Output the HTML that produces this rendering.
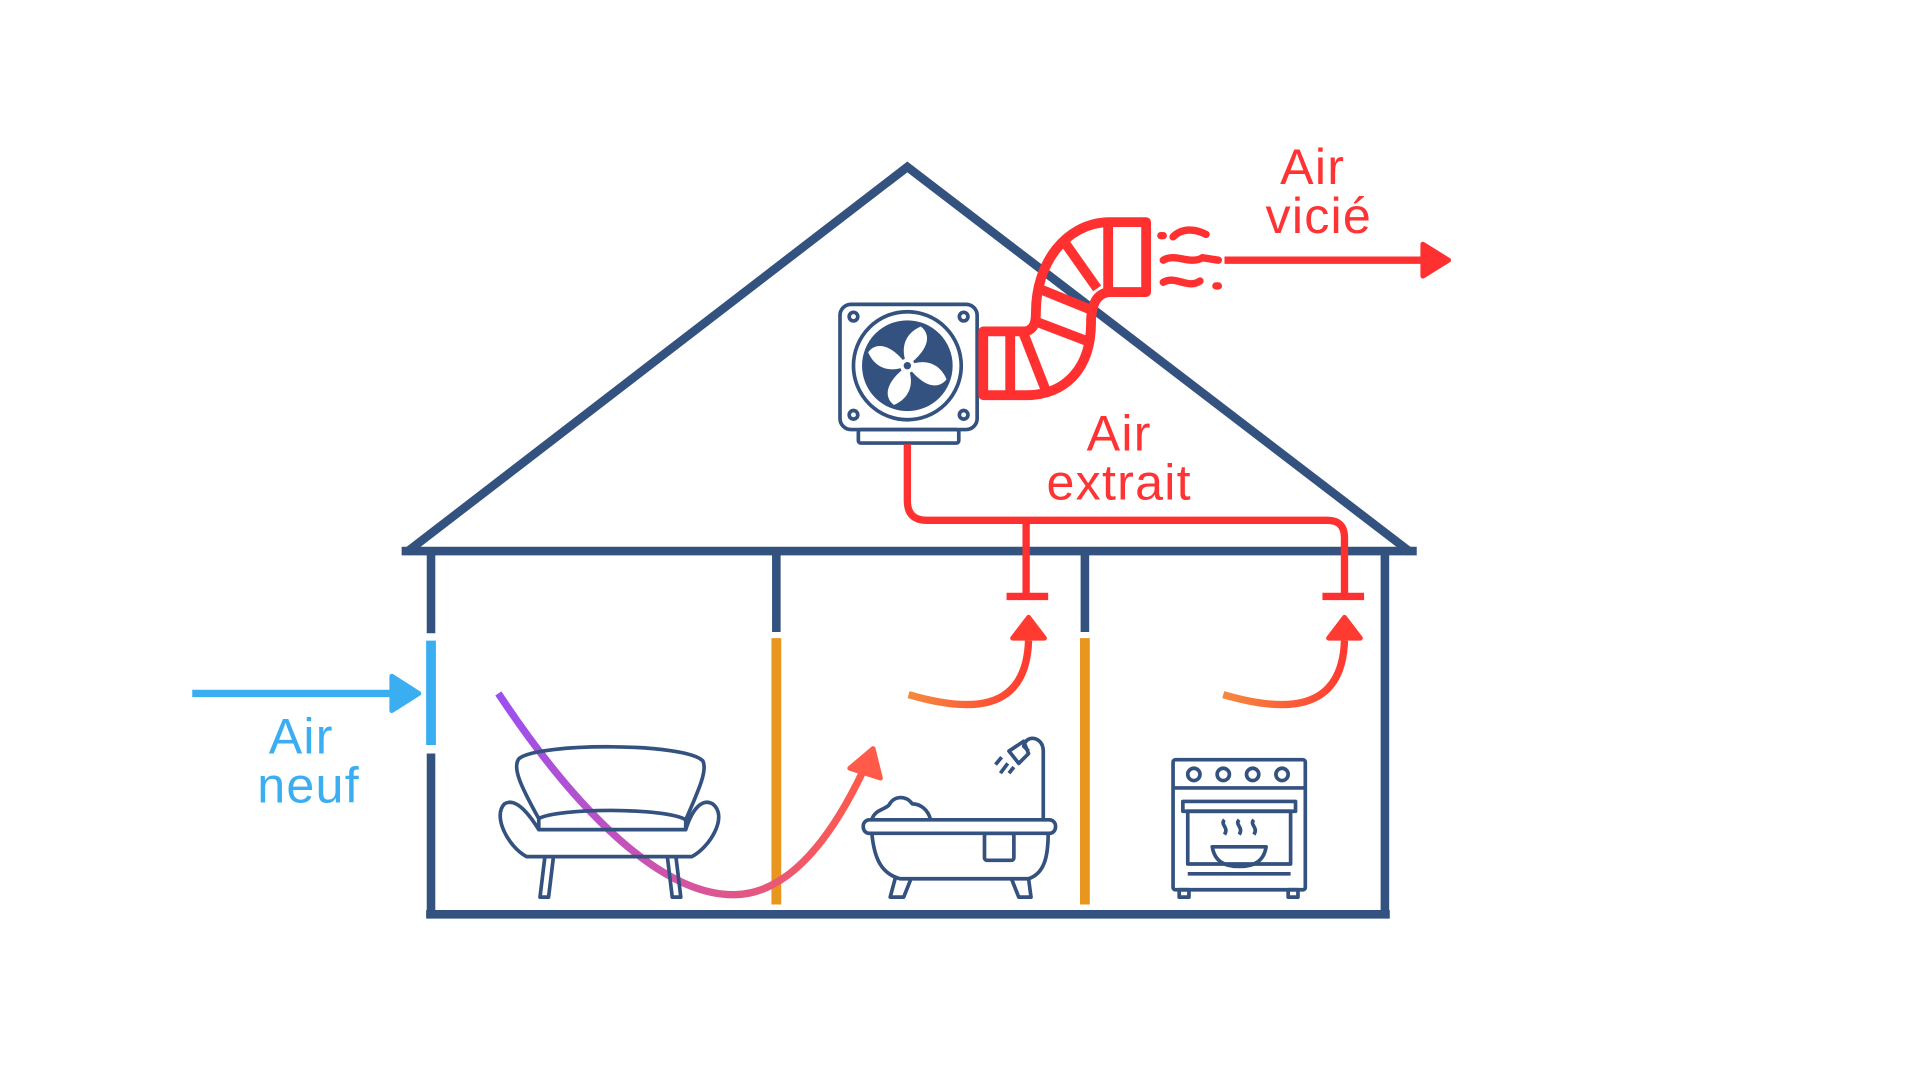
<!DOCTYPE html>
<html><head><meta charset="utf-8"><style>html,body{margin:0;padding:0;background:#fff;}svg{display:block}</style></head>
<body>
<svg width="1920" height="1080" viewBox="0 0 1568 880" preserveAspectRatio="none" xmlns="http://www.w3.org/2000/svg">
<defs>
<linearGradient id="g1" x1="0" y1="0" x2="1" y2="0">
<stop offset="0" stop-color="#9b4ff0"/><stop offset="0.55" stop-color="#d9559a"/><stop offset="1" stop-color="#ff5a4a"/></linearGradient>
<linearGradient id="g2" x1="0" y1="0" x2="1" y2="0">
<stop offset="0" stop-color="#f58a40"/><stop offset="1" stop-color="#ff3a30"/></linearGradient>
</defs>
<rect width="1568" height="880" fill="#fff"/>
<g stroke="#34527f" fill="none" stroke-width="7">
<polyline points="332,450 741,136 1152,450" stroke-linejoin="miter"/>
<line x1="328" y1="449" x2="1157" y2="449"/>
<line x1="352" y1="450" x2="352" y2="516"/>
<line x1="352" y1="614" x2="352" y2="748"/>
<line x1="1131" y1="450" x2="1131" y2="748"/>
<line x1="348" y1="745" x2="1135" y2="745"/>
<line x1="634" y1="450" x2="634" y2="515"/>
<line x1="886" y1="450" x2="886" y2="515"/>
</g>
<g stroke="#e8961e" stroke-width="8">
<line x1="634" y1="520" x2="634" y2="737"/>
<line x1="886" y1="520" x2="886" y2="737"/>
</g>
<line x1="352" y1="522" x2="352" y2="607" stroke="#3aaef0" stroke-width="8"/>
<line x1="157" y1="565" x2="328" y2="565" stroke="#3aaef0" stroke-width="6"/>
<polygon points="320,551 342,565 320,579" fill="#3aaef0" stroke="#3aaef0" stroke-width="4" stroke-linejoin="round"/>
<g font-family="Liberation Sans, sans-serif" font-size="41" text-anchor="middle" letter-spacing="1">
<text x="246" y="614" fill="#3aaef0">Air</text>
<text x="252" y="654" fill="#3aaef0">neuf</text>
<text x="914" y="367" fill="#ff3333">Air</text>
<text x="914" y="407" fill="#ff3333">extrait</text>
<text x="1072" y="150" fill="#ff3333">Air</text>
<text x="1077" y="190" fill="#ff3333">vicié</text>
</g>
<g stroke="#34527f" stroke-width="3" fill="none">
<rect x="686" y="248" width="112" height="102" rx="9"/>
<rect x="701" y="350" width="82" height="11" rx="2"/>
<circle cx="741" cy="298" r="44"/>
<circle cx="697" cy="258" r="3.5"/><circle cx="787" cy="258" r="3.5"/>
<circle cx="697" cy="338" r="3.5"/><circle cx="787" cy="338" r="3.5"/>
</g>
<circle cx="741" cy="298" r="37" fill="#34527f"/>
<g fill="#fff">
<path d="M741,298 C735,285 738,272 752,266 C760,272 760,284 741,298Z"/>
<path d="M741,298 C754,292 767,295 773,309 C767,317 755,317 741,298Z"/>
<path d="M741,298 C747,311 744,324 730,330 C722,324 722,312 741,298Z"/>
<path d="M741,298 C728,304 715,301 709,287 C715,279 727,279 741,298Z"/>
</g>
<circle cx="741" cy="298" r="6" fill="#fff"/><circle cx="741" cy="298" r="3" fill="#34527f"/>
<g stroke="#ff3030" stroke-width="8" fill="none" stroke-linejoin="round">
<path d="M803,270 L838,270 C845,268 846,262 846,254 C846,215 870,182 905,181 L936,181 L936,238 L905,238 C895,240 892,248 891,260 C892,300 870,322 838,322 L803,322 Z"/>
<line x1="905" y1="181" x2="905" y2="238"/>
<line x1="867" y1="194" x2="896" y2="235"/>
<line x1="848" y1="235" x2="890" y2="252"/>
<line x1="846" y1="262" x2="888" y2="278"/>
<line x1="836" y1="272" x2="854" y2="318"/>
<line x1="825" y1="270" x2="825" y2="322"/>
</g>
<g stroke="#ff3030" stroke-width="6" stroke-linecap="round" fill="none">
<line x1="948" y1="192" x2="950" y2="192"/>
<path d="M958,193 C965,186 975,186 985,191"/>
<path d="M950,212 C960,206 972,216 982,210 L995,212"/>
<path d="M950,230 C960,224 970,236 980,229"/>
<line x1="993" y1="233" x2="995" y2="233"/>
</g>
<line x1="1000" y1="212" x2="1168" y2="212" stroke="#ff3030" stroke-width="6"/>
<polygon points="1162,199 1183,212 1162,225" fill="#ff3030" stroke="#ff3030" stroke-width="4" stroke-linejoin="round"/>
<g stroke="#ff3030" stroke-width="6" fill="none">
<path d="M741,362 L741,408 Q741,424 757,424 L1084,424 Q1098,424 1098,438 L1098,484"/>
<line x1="838" y1="424" x2="838" y2="484"/>
<line x1="822" y1="486" x2="856" y2="486"/>
<line x1="1080" y1="486" x2="1114" y2="486"/>
</g>
<path d="M742,566 C790,580 838,582 840,522" stroke="url(#g2)" stroke-width="6" fill="none"/>
<polygon points="827,520 840,503 853,520" fill="#ff3a30" stroke="#ff3a30" stroke-width="4" stroke-linejoin="round"/>
<path d="M999,566 C1047,580 1096,582 1098,522" stroke="url(#g2)" stroke-width="6" fill="none"/>
<polygon points="1085,520 1098,503 1111,520" fill="#ff3a30" stroke="#ff3a30" stroke-width="4" stroke-linejoin="round"/>
<path d="M407,565 C470,660 540,730 600,729 C650,728 685,670 705,628" stroke="url(#g1)" stroke-width="6" fill="none"/>
<polygon points="694,626 713,610 719,634" fill="#ff5a4a" stroke="#ff5a4a" stroke-width="4" stroke-linejoin="round"/>
<g stroke="#34527f" stroke-width="3" fill="none" stroke-linejoin="round">
<path d="M440,667 C425,640 418,625 424,618 C440,605 560,605 574,620 C578,628 570,645 560,668"/>
<path d="M440,667 C455,658 545,658 560,668 L560,676 L440,676 Z"/>
<path d="M440,676 C430,660 420,650 412,655 C402,665 415,690 430,698 L565,698 C580,690 595,665 582,655 C573,650 565,660 560,676"/>
<path d="M445,698 L441,731 L448,731 L452,698"/>
<path d="M545,698 L549,731 L556,731 L552,698"/>
</g>
<g stroke="#34527f" stroke-width="3" fill="none" stroke-linejoin="round">
<path d="M712,668 C714,660 722,660 726,656 C730,648 740,648 745,655 C752,655 758,660 760,668"/>
<rect x="705" y="668" width="157" height="11" rx="5"/>
<path d="M712,679 C714,700 720,712 735,716 L840,716 C852,712 856,700 856,679"/>
<rect x="804" y="679" width="24" height="22" rx="2"/>
<path d="M731,716 L727,731 L738,731 L744,716"/>
<path d="M826,716 L832,731 L842,731 L840,716"/>
<path d="M852,668 L852,612 C852,600 838,598 836,608 L840,612"/>
<path d="M824,612 L836,604 L840,614 L832,622 Z"/>
<path d="M818,617 L813,623 M823,622 L817,630 M828,625 L824,630"/>
</g>
<g stroke="#34527f" stroke-width="3" fill="none" stroke-linejoin="round">
<rect x="958" y="619" width="108" height="106" rx="2"/>
<line x1="958" y1="642" x2="1066" y2="642"/>
<circle cx="975" cy="631" r="5"/><circle cx="999" cy="631" r="5"/><circle cx="1023" cy="631" r="5"/><circle cx="1047" cy="631" r="5"/>
<rect x="966" y="653" width="92" height="8"/>
<rect x="970" y="661" width="84" height="43"/>
<line x1="970" y1="712" x2="1054" y2="712"/>
<path d="M990,690 L1034,690 C1032,702 1024,706 1012,706 C1000,706 992,702 990,690 Z"/>
<path d="M1000,668 c-4,4 4,6 0,12 M1012,668 c-4,4 4,6 0,12 M1024,668 c-4,4 4,6 0,12"/>
<rect x="963" y="725" width="8" height="6"/><rect x="1052" y="725" width="8" height="6"/>
</g>
</svg>
</body></html>
